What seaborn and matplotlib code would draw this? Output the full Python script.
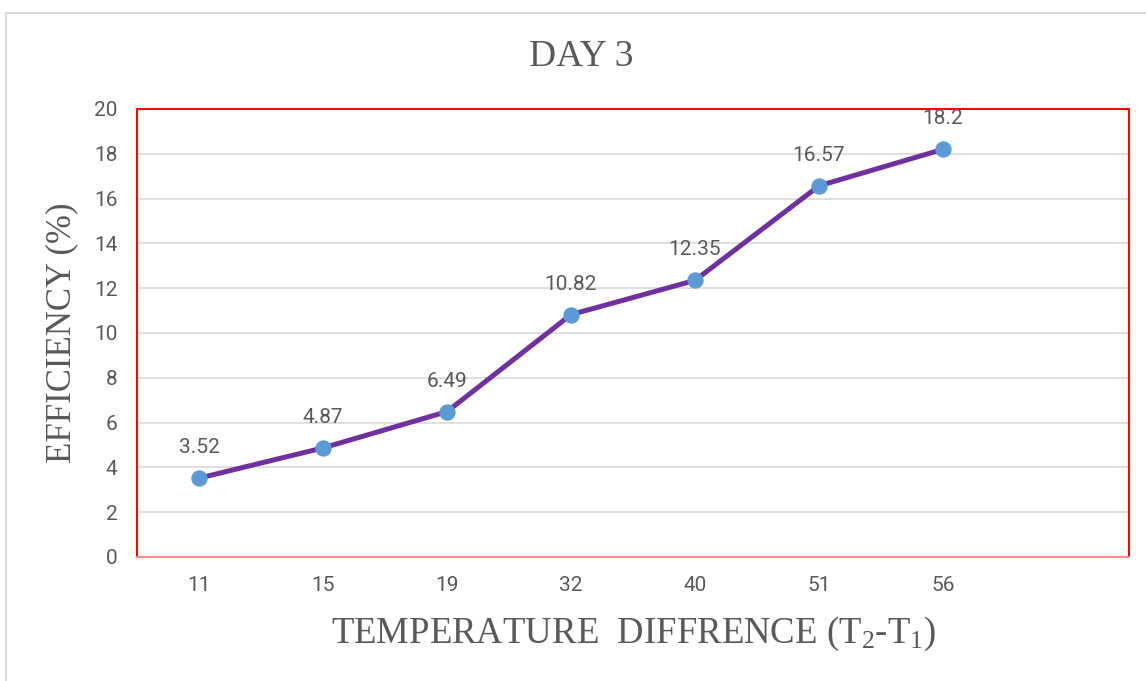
import numpy as np
import pandas as pd
import matplotlib
matplotlib.use("Agg")
import matplotlib.pyplot as plt
from matplotlib.patches import Rectangle
import seaborn as sns

# === Data ===
temp_diff = ["11", "15", "19", "32", "40", "51", "56"]
efficiency = [3.52, 4.87, 6.49, 10.82, 12.35, 16.57, 18.2]
y_ticks = [0, 2, 4, 6, 8, 10, 12, 14, 16, 18, 20]

df = pd.DataFrame({"diff": temp_diff, "eff": efficiency})

# === Style ===
sns.set_style("white")
plt.rcParams["font.family"] = ["Roboto", "DejaVu Sans"]
plt.rcParams["mathtext.fontset"] = "custom"
plt.rcParams["mathtext.rm"] = "Liberation Serif"
plt.rcParams["mathtext.it"] = "Liberation Serif"
text_col = "#595959"
W, H = 1146, 681

fig = plt.figure(figsize=(W / 100, H / 100), dpi=100)
ax = fig.add_axes([137 / W, (H - 557) / H, (1129 - 137) / W, (557 - 109) / H])

# outer chart border (cropped at right/bottom)
fig.patches.append(Rectangle((6 / W, -0.05), 1.2, (H - 13) / H + 0.05,
                             transform=fig.transFigure, fill=False,
                             edgecolor="#D9D9D9", linewidth=1.5))

sns.lineplot(data=df, x="diff", y="eff", sort=False, ax=ax,
             color="#7030A0", linewidth=3.6, marker="o", markersize=11,
             markerfacecolor="#5B9BD5", markeredgecolor="#5B9BD5", zorder=3)

# data labels
for i, v in enumerate(efficiency):
    ax.annotate(f"{v:g}", (i, v), xytext=(0, 22), textcoords="offset points",
                ha="center", va="center", fontsize=15, color=text_col)

ax.set_xlim(-0.5, 7.5)
ax.set_ylim(0, 20)
ax.set_yticks(y_ticks)
ax.grid(axis="y", color="#D9D9D9", linewidth=1.2)
ax.set_axisbelow(True)
ax.tick_params(axis="both", length=0, labelsize=15, labelcolor=text_col, pad=14)

for side in ["left", "top", "right"]:
    ax.spines[side].set_color("#FF0000")
    ax.spines[side].set_linewidth(1.5)
ax.spines["bottom"].set_color("#FF8C8C")
ax.spines["bottom"].set_linewidth(1.5)

ax.set_xlabel("")
ax.set_ylabel("")

fig.text(581 / W, 1 - 57 / H, "DAY 3", family="Liberation Serif", fontsize=27,
         color=text_col, ha="center", va="center")
fig.text(634 / W, 1 - 634 / H, r"TEMPERATURE  DIFFRENCE (T$_\mathrm{2}$-T$_\mathrm{1}$)",
         family="Liberation Serif", fontsize=26.5, color=text_col, ha="center", va="center")
fig.text(62 / W, 1 - 333 / H, "EFFICIENCY (%)", family="Liberation Serif",
         fontsize=25, color=text_col, ha="center", va="center", rotation=90)

fig.savefig("out.png", dpi=100)
